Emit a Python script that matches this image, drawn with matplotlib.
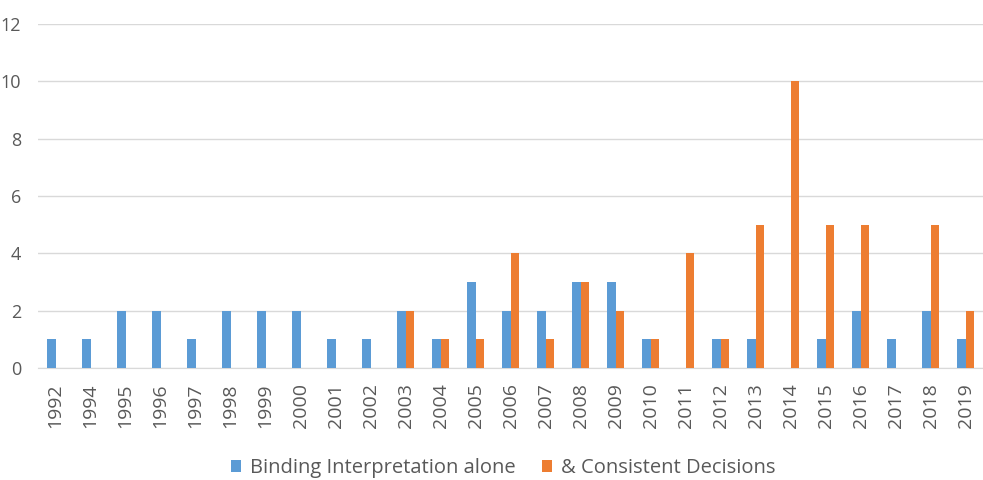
import numpy as np
import matplotlib.pyplot as plt

## data
years = ['1992', '1994', '1995', '1996', '1997', '1998', '1999', '2000', '2001',
         '2002', '2003', '2004', '2005', '2006', '2007', '2008', '2009', '2010',
         '2011', '2012', '2013', '2014', '2015', '2016', '2017', '2018', '2019']
binding_alone = [1, 1, 2, 2, 1, 2, 2, 2, 1, 1, 2, 1, 3, 2, 2, 3, 3, 1,
                 0, 1, 1, 0, 1, 2, 1, 2, 1]
consistent = [0, 0, 0, 0, 0, 0, 0, 0, 0, 0, 2, 1, 1, 4, 1, 3, 2, 1,
              4, 1, 5, 10, 5, 5, 0, 5, 2]

plt.rcParams['font.family'] = ['Open Sans', 'DejaVu Sans']
grey = '#595959'

fig = plt.figure(figsize=(9.83, 4.8), dpi=100)
ax = fig.add_axes([0.0387, 0.2333, 0.9613, 0.7167])

x = np.arange(len(years))
w = 0.23
ax.bar(x - w/2, binding_alone, width=w, color='#5b9bd5', label='Binding Interpretation alone', zorder=3)
ax.bar(x + w/2, consistent, width=w, color='#ed7d31', label='& Consistent Decisions', zorder=3)

ax.set_xlim(-0.5, len(years) - 0.5)
ax.set_ylim(0, 12)
ax.set_yticks(range(0, 13, 2))
ax.set_xticks(x)
ax.set_xticklabels(years, rotation=90)
ax.tick_params(axis='both', length=0, labelsize=14, colors=grey)
ax.tick_params(axis='y', pad=12, labelsize=13)
ax.tick_params(axis='x', pad=11)
ax.yaxis.grid(True, color='#d9d9d9', linewidth=1, zorder=0)
for s in ['top', 'right', 'left']:
    ax.spines[s].set_visible(False)
ax.spines['bottom'].set_color('#d9d9d9')

ax.legend(loc='center', bbox_to_anchor=(0.4926, -0.29), ncol=2, frameon=False,
          fontsize=14.5, labelcolor=grey, handlelength=0.5, handleheight=0.55,
          handletextpad=0.45, columnspacing=1.3, borderaxespad=0)

plt.savefig('out.png', dpi=100)
